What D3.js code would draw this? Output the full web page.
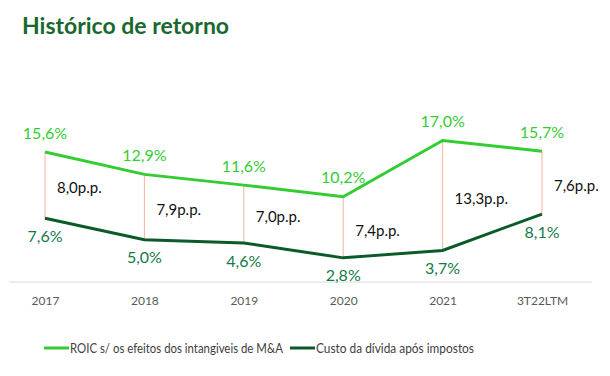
<!DOCTYPE html>
<html>
<head>
<meta charset="utf-8">
<script src="https://cdnjs.cloudflare.com/ajax/libs/d3/7.8.5/d3.min.js"></script>
<style>
  body { margin: 0; background: #fff; }
  text { font-family: Lato, "Open Sans", sans-serif; }
</style>
</head>
<body>
<div id="chart"></div>
<script>
// data
const years = ['2017', '2018', '2019', '2020', '2021', '3T22LTM']
const roic = [15.6, 12.9, 11.6, 10.2, 17.0, 15.7]
const custo = [7.6, 5.0, 4.6, 2.8, 3.7, 8.1]
const spread = ['8,0', '7,9', '7,0', '7,4', '13,3', '7,6']
const seriesNames = ['ROIC s/ os efeitos dos intangiveis de M&A', 'Custo da dívida após impostos']

const width = 610, height = 376
const lightGreen = '#33cc33', darkGreen = '#0b5a2a', labelDark = '#137a4a'

let svg = d3.select('#chart').append('svg')
    .attr('width', width)
    .attr('height', height)

// title
svg.append('text').text('Histórico de retorno')
    .attr('x', 22).attr('y', 34)
    .style('font-size', '23px').style('font-weight', 'bold')
    .attr('fill', '#17692e')

let xScale = d3.scalePoint().domain(years).range([45, 542])
let yScale = d3.scaleLinear().domain([0, 17]).range([281, 140.5])

// baseline + year labels
let xAxis = svg.append('g').attr('transform', 'translate(0,' + 282 + ')')
    .call(d3.axisBottom(xScale).tickSize(0).tickPadding(14))
xAxis.select('.domain').remove()
xAxis.append('line').attr('x1', 9).attr('x2', 592).attr('stroke', '#d9d9d9')
xAxis.selectAll('.tick text').style('font-size', '12px').attr('fill', '#595959')
    .style('font-family', 'Lato, sans-serif')

// vertical spread lines
let rows = years.map((y, i) => ({year: y, roic: roic[i], custo: custo[i], spread: spread[i]}))
svg.append('g').selectAll('line').data(rows).enter().append('line')
    .attr('x1', d => xScale(d.year)).attr('x2', d => xScale(d.year))
    .attr('y1', d => yScale(d.roic)).attr('y2', d => yScale(d.custo))
    .attr('stroke', '#f7b49a').attr('stroke-width', 1)

let line = key => d3.line().x(d => xScale(d.year)).y(d => yScale(d[key]))
svg.append('path').datum(rows).attr('d', line('roic'))
    .attr('fill', 'none').attr('stroke', lightGreen).attr('stroke-width', 3)
svg.append('path').datum(rows).attr('d', line('custo'))
    .attr('fill', 'none').attr('stroke', darkGreen).attr('stroke-width', 3)

let fmt = v => v.toFixed(1).replace('.', ',') + '%'

// value labels
svg.append('g').selectAll('text').data(rows).enter().append('text')
    .text(d => fmt(d.roic))
    .attr('x', d => xScale(d.year)).attr('y', d => yScale(d.roic) - 19)
    .attr('dy', '0.35em').attr('text-anchor', 'middle')
    .style('font-size', '16px').attr('fill', lightGreen)
svg.append('g').selectAll('text').data(rows).enter().append('text')
    .text(d => fmt(d.custo))
    .attr('x', d => xScale(d.year)).attr('y', d => yScale(d.custo) + 18)
    .attr('dy', '0.35em').attr('text-anchor', 'middle')
    .style('font-size', '16px').attr('fill', labelDark)

// spread labels (p.p.)
svg.append('g').selectAll('text').data(rows).enter().append('text')
    .text(d => d.spread + 'p.p.')
    .attr('x', d => xScale(d.year) + 12)
    .attr('y', d => (yScale(d.roic) + yScale(d.custo)) / 2 + 3)
    .attr('dy', '0.35em')
    .style('font-size', '15px').attr('fill', '#111')

// legend
let legend = svg.append('g').attr('transform', 'translate(0,348)')
let legendX = [44, 290]
let legendW = [213, 158]
let legendColors = [lightGreen, darkGreen]
seriesNames.forEach((name, i) => {
    legend.append('line').attr('x1', legendX[i]).attr('x2', legendX[i] + 25)
        .attr('stroke', legendColors[i]).attr('stroke-width', 3)
    legend.append('text').text(name).attr('x', legendX[i] + 26).attr('dy', '0.35em')
        .attr('textLength', legendW[i]).attr('lengthAdjust', 'spacingAndGlyphs')
        .style('font-size', '13px').attr('fill', '#404040')
})
</script>
</body>
</html>
